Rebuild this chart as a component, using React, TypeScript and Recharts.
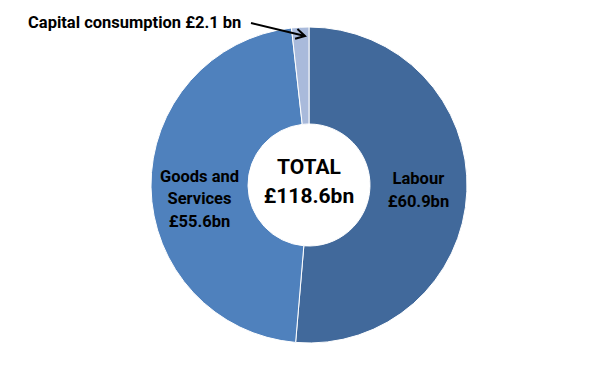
import React from "react";
import { PieChart, Pie, Cell } from "recharts";

const categories = ["Labour", "Goods and Services", "Capital consumption"];
const values = [60.9, 55.6, 2.1];
const labelLines = [["Labour", "£60.9bn"], ["Goods and", "Services", "£55.6bn"], []];
const labelShiftY = [0, 12, 0];
const colors = ["#41699b", "#4f81bd", "#a9badb"];
const totalLines = ["TOTAL", "£118.6bn"];
const annotation = "Capital consumption £2.1 bn";

const data = categories.map((name, i) => ({ name, value: values[i] }));
const FONT = "Roboto, 'DejaVu Sans', sans-serif";
const RAD = Math.PI / 180;

const renderLabel = (props: any) => {
  const { cx, cy, midAngle, innerRadius, outerRadius, index } = props;
  const lines = labelLines[index] || [];
  if (!lines.length) return null;
  const r = (innerRadius + outerRadius) / 2;
  const x = cx + r * Math.cos(-midAngle * RAD);
  const y = cy + r * Math.sin(-midAngle * RAD) + labelShiftY[index];
  const lh = 22.5;
  const top = y - ((lines.length - 1) * lh) / 2 + 6;
  return (
    <text
      key={`lbl-${index}`}
      x={x}
      y={top}
      textAnchor="middle"
      fontFamily={FONT}
      fontWeight={700}
      fontSize={16.5}
      fill="#000"
    >
      {lines.map((l, i) => (
        <tspan key={i} x={x} dy={i === 0 ? 0 : lh}>
          {l}
        </tspan>
      ))}
    </text>
  );
};

export default function App() {
  const cx = 309;
  const cy = 185;
  return (
    <div style={{ position: "absolute", left: 0, top: 0, width: 589, height: 370, background: "#fff" }}>
      <PieChart width={589} height={370} margin={{ top: 0, right: 0, bottom: 0, left: 0 }}>
        <Pie
          data={data}
          dataKey="value"
          nameKey="name"
          cx={cx}
          cy={cy}
          innerRadius={61}
          outerRadius={158}
          startAngle={90}
          endAngle={-270}
          stroke="#ffffff"
          strokeWidth={1}
          label={renderLabel}
          labelLine={false}
          isAnimationActive={false}
        >
          {data.map((d, i) => (
            <Cell key={d.name} fill={colors[i]} />
          ))}
        </Pie>
        <text x={cx} y={174} textAnchor="middle" fontFamily={FONT} fontWeight={700} fontSize={21} fill="#000">
          {totalLines[0]}
        </text>
        <text x={cx} y={203} textAnchor="middle" fontFamily={FONT} fontWeight={700} fontSize={21} fill="#000">
          {totalLines[1]}
        </text>
      </PieChart>
      <svg
        width={589}
        height={370}
        style={{ position: "absolute", left: 0, top: 0, pointerEvents: "none" }}
      >
        <defs>
          <marker id="arrowHead" markerWidth="12" markerHeight="12" refX="10" refY="6" orient="auto" markerUnits="userSpaceOnUse">
            <path d="M1,1 L10,6 L1,11" fill="none" stroke="#000" strokeWidth={2} />
          </marker>
        </defs>
        <text x={28} y={28} fontFamily={FONT} fontWeight={700} fontSize={16.5} fill="#000">
          {annotation}
        </text>
        <line x1={251} y1={23} x2={305} y2={36} stroke="#000" strokeWidth={2} markerEnd="url(#arrowHead)" />
      </svg>
    </div>
  );
}
